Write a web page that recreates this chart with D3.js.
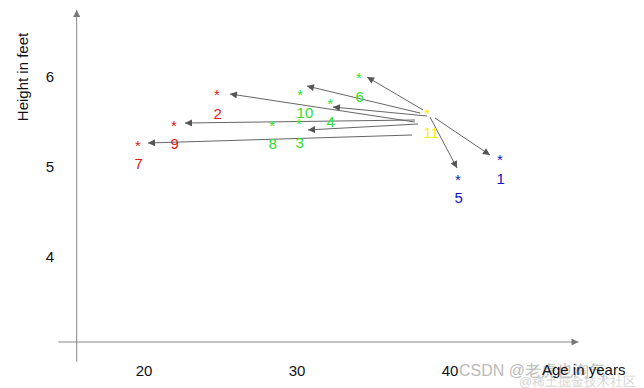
<!DOCTYPE html>
<html>
<head>
<meta charset="utf-8">
<script src="https://cdn.jsdelivr.net/npm/d3@7"></script>
<style>
  body { margin: 0; background: #fff; }
  svg { display: block; font-family: "Liberation Sans", Arial, sans-serif; }
</style>
</head>
<body>
<div id="chart"></div>
<script>
// point data (age in years, height in feet)
const pointIds   = ["1", "2", "3", "4", "5", "6", "7", "8", "9", "10", "11"];
const ages       = [43.27, 24.77, 30.13, 32.16, 40.52, 34.05, 19.61, 28.37, 21.96, 30.20, 38.50];
const heights    = [5.11, 5.83, 5.51, 5.74, 4.89, 6.02, 5.27, 5.49, 5.49, 5.84, 5.62];
const pointGroup = ["blue", "red", "green", "green", "blue", "green", "red", "green", "red", "green", "yellow"];
const groupColor = { red: "#e01818", green: "#2ee02e", blue: "#1414c8", yellow: "#f2f200" };

// arrows from the new point 11 to its neighbours
const arrowTargets   = ["6", "10", "4", "2", "9", "3", "7", "1", "5"];
const arrowFromAge    = [38.24, 38.04, 38.50, 37.71, 37.71, 37.91, 37.52, 39.02, 38.69];
const arrowFromHeight = [5.628, 5.594, 5.561, 5.494, 5.517, 5.472, 5.350, 5.539, 5.550];
const arrowToAge      = [34.58, 30.65, 32.35, 25.62, 22.68, 30.72, 20.26, 42.61, 40.46];
const arrowToHeight   = [5.994, 5.894, 5.661, 5.806, 5.483, 5.406, 5.261, 5.128, 4.983];

// axes
const xTicks = [20, 30, 40];
const yTicks = [4, 5, 6];
const xAxisAt = 3.05, xAxisRange = [14.4, 48.4];
const yAxisAt = 15.6, yAxisRange = [2.83, 6.74];
const xTitle = "Age in years";
const yTitle = "Height in feet";
const watermark = "CSDN @老虎也淘气";
const watermark2 = "@稀土掘金技术社区";

const width = 644, height = 388;

const x = d3.scaleLinear().domain([20, 40]).range([144, 450]);
const y = d3.scaleLinear().domain([4, 6]).range([256.5, 76.5]);

const svg = d3.select("#chart").append("svg")
  .attr("width", width)
  .attr("height", height);

const defs = svg.append("defs");
defs.append("marker")
  .attr("id", "head")
  .attr("markerUnits", "userSpaceOnUse")
  .attr("viewBox", "0 0 10 10")
  .attr("refX", 10).attr("refY", 5)
  .attr("markerWidth", 9).attr("markerHeight", 7)
  .attr("orient", "auto")
  .append("path").attr("d", "M0,0L10,5L0,10z").attr("fill", "#555");
defs.append("marker")
  .attr("id", "axhead")
  .attr("markerUnits", "userSpaceOnUse")
  .attr("viewBox", "0 0 10 10")
  .attr("refX", 10).attr("refY", 5)
  .attr("markerWidth", 9).attr("markerHeight", 7)
  .attr("orient", "auto")
  .append("path").attr("d", "M0,0L10,5L0,10z").attr("fill", "#777");

// axis lines
svg.append("line")
  .attr("x1", x(xAxisRange[0])).attr("x2", x(xAxisRange[1]))
  .attr("y1", y(xAxisAt)).attr("y2", y(xAxisAt))
  .attr("stroke", "#888").attr("stroke-width", 1)
  .attr("marker-end", "url(#axhead)");
svg.append("line")
  .attr("x1", x(yAxisAt)).attr("x2", x(yAxisAt))
  .attr("y1", y(yAxisRange[0])).attr("y2", y(yAxisRange[1]))
  .attr("stroke", "#888").attr("stroke-width", 1)
  .attr("marker-end", "url(#axhead)");

// tick labels
svg.append("g").selectAll("text")
  .data(xTicks)
  .join("text")
  .attr("x", d => x(d))
  .attr("y", 376)
  .attr("text-anchor", "middle")
  .attr("font-size", 15)
  .attr("fill", "#111")
  .text(d => d);

svg.append("g").selectAll("text")
  .data(yTicks)
  .join("text")
  .attr("x", 50)
  .attr("y", d => y(d) + 5.5)
  .attr("text-anchor", "middle")
  .attr("font-size", 15)
  .attr("fill", "#111")
  .text(d => d);

// axis titles
svg.append("text")
  .attr("transform", "translate(28,77) rotate(-90)")
  .attr("text-anchor", "middle")
  .attr("font-size", 15)
  .attr("fill", "#111")
  .text(yTitle);

// watermark (behind the x title)
svg.append("text")
  .attr("x", 459).attr("y", 376)
  .attr("font-size", 16)
  .attr("fill", "#aaa")
  .attr("opacity", 0.8)
  .text(watermark);
svg.append("text")
  .attr("x", 519).attr("y", 386)
  .attr("font-size", 13)
  .attr("fill", "#ccc")
  .attr("opacity", 0.8)
  .text(watermark2);

svg.append("text")
  .attr("x", 542).attr("y", 375)
  .attr("font-size", 15)
  .attr("fill", "#111")
  .text(xTitle);

// neighbour arrows
const arrows = arrowTargets.map((t, i) => ({
  t, x1: arrowFromAge[i], y1: arrowFromHeight[i], x2: arrowToAge[i], y2: arrowToHeight[i]
}));
svg.append("g").selectAll("line")
  .data(arrows)
  .join("line")
  .attr("x1", d => x(d.x1)).attr("y1", d => y(d.y1))
  .attr("x2", d => x(d.x2)).attr("y2", d => y(d.y2))
  .attr("stroke", "#666")
  .attr("stroke-width", 1)
  .attr("marker-end", "url(#head)");

// points: a star and its number below
const points = pointIds.map((id, i) => ({
  id, age: ages[i], h: heights[i], color: groupColor[pointGroup[i]]
}));
const pg = svg.append("g").selectAll("g")
  .data(points)
  .join("g")
  .attr("fill", d => d.color)
  .attr("font-size", 15);

pg.append("text")
  .attr("x", d => x(d.age))
  .attr("y", d => y(d.h) + 8.6)
  .attr("text-anchor", "middle")
  .text("*");

pg.append("text")
  .attr("x", d => x(d.age) - 3.5)
  .attr("y", d => y(d.h) + 27)
  .text(d => d.id);
</script>
</body>
</html>
